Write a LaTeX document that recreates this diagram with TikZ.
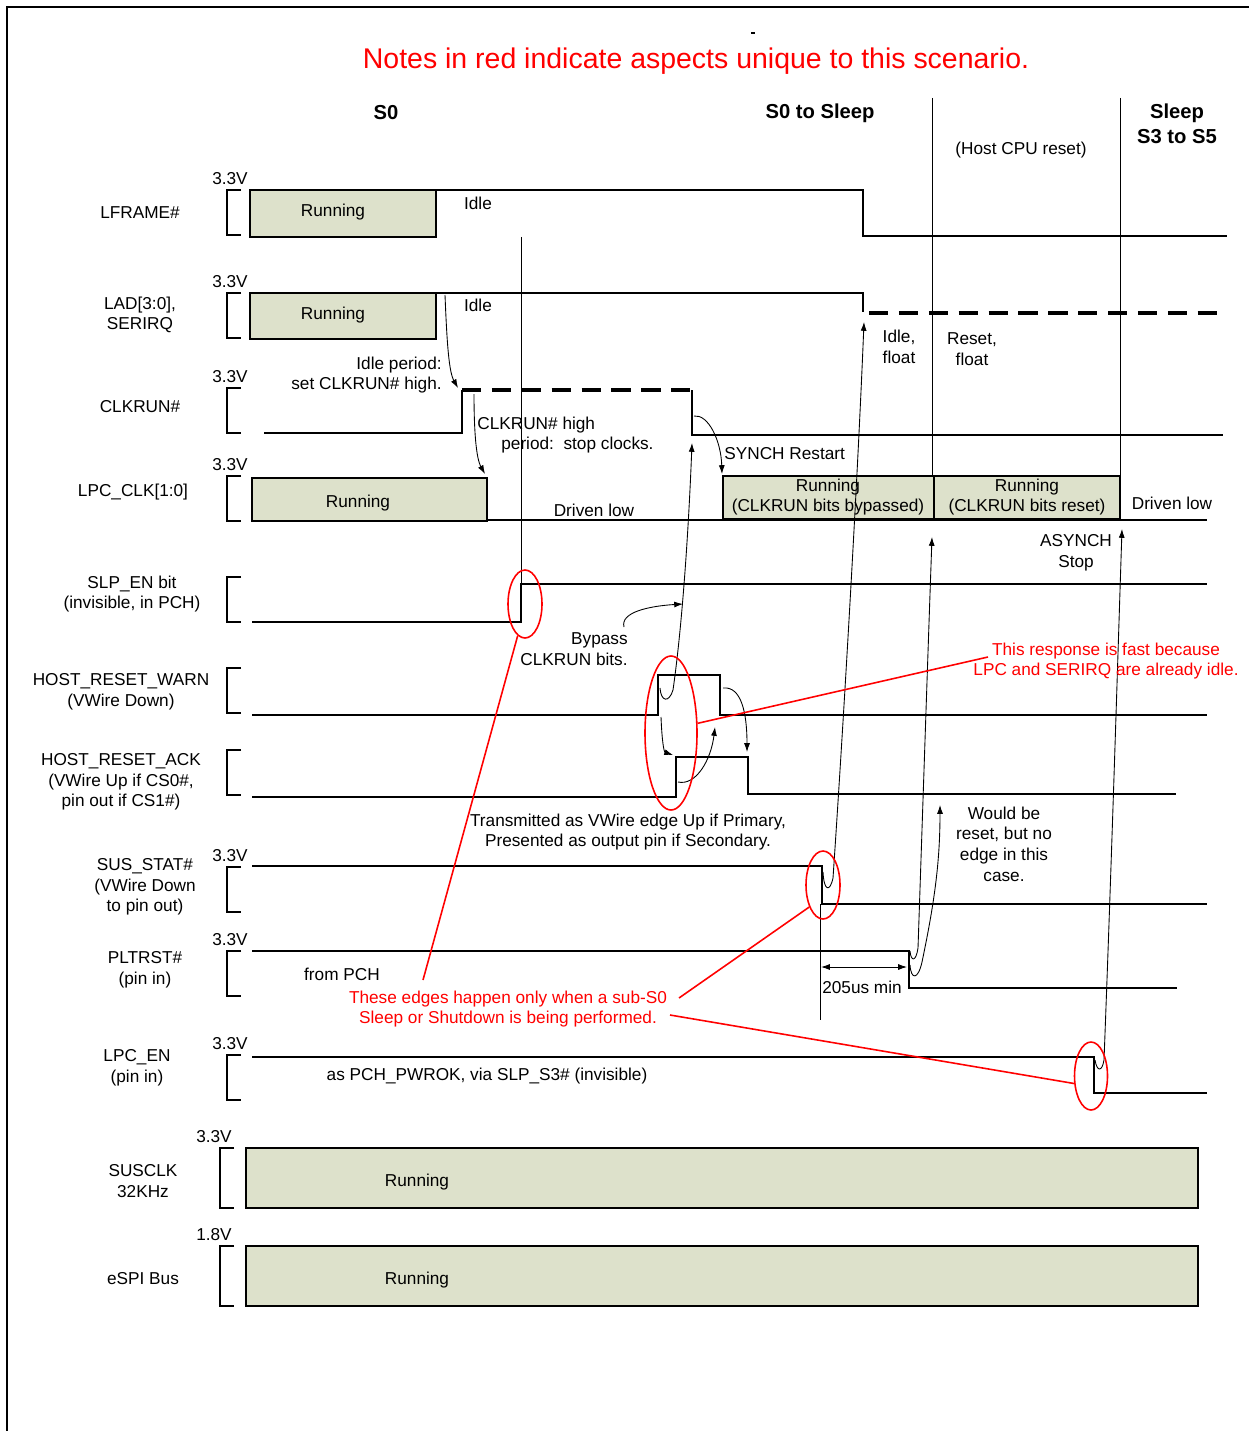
\documentclass[tikz,border=0pt]{standalone}
\usepackage{fontspec}
\setmainfont{Liberation Sans}
\usetikzlibrary{arrows.meta,shapes.geometric}
\definecolor{runfill}{RGB}{221,225,203}

\begin{document}
\begin{tikzpicture}[
    x=0.2mm, y=-0.2mm,
    txt/.style={font=\fontsize{9.8}{11.8}\selectfont, align=center, inner sep=0pt},
    rednote/.style={txt, text=red},
    head/.style={font=\fontsize{11.5}{14}\selectfont\bfseries, align=center, inner sep=0pt},
    wave/.style={line width=1.6pt},
    dashwave/.style={line width=2.2pt, dash pattern=on 11pt off 6pt},
    runbox/.style={draw, line width=1.6pt, fill=runfill},
    brkt/.style={line width=1.6pt},
    thin/.style={line width=0.5pt},
    arrow/.style={-{Latex[length=5pt,width=3.4pt]}, line width=0.5pt},
    ring/.style={draw=red, line width=0.9pt, ellipse, inner sep=0pt},
    redline/.style={red, line width=0.9pt}
  ]
    \useasboundingbox (0,0) rectangle (1249,1431);
    % Frame
    \draw[line width=1.6pt] (7,1431) -- (7,7) -- (1249,7);
    \draw[line width=1.2pt] (751,33) -- (755,33);

    % Title and phases
    \node[rednote, font=\fontsize{16.2}{19}\selectfont] (scen) at (696,61)
      {Notes in red indicate aspects unique to this scenario.};
    \node[head] (ph0) at (386,113) {S0};
    \node[head] (ph1) at (820,113) {S0 to Sleep};
    \node[head] (ph2) at (1177,124) {Sleep\\S3 to S5};
    \node[txt] (cpurst) at (1021,150) {(Host CPU reset)};
    \draw[thin] (932,98) -- (932,476);
    \draw[thin] (1120,98) -- (1120,476);

    % Signal names
    \node[txt] (nlframe) at (140,213) {LFRAME\#};
    \node[txt] (nlad) at (140,315) {LAD[3:0],\\SERIRQ};
    \node[txt] (nclkrun) at (140,407) {CLKRUN\#};
    \node[txt] (nlpcclk) at (133,492) {LPC\_CLK[1:0]};
    \node[txt] (nslpen) at (132,594) {SLP\_EN bit\\(invisible, in PCH)};
    \node[txt] (nwarn) at (121,692) {HOST\_RESET\_WARN\\(VWire Down)};
    \node[txt] (nack) at (121,782) {HOST\_RESET\_ACK\\(VWire Up if CS0\#,\\pin out if CS1\#)};
    \node[txt] (nsusstat) at (145,887) {SUS\_STAT\#\\(VWire Down\\to pin out)};
    \node[txt] (npltrst) at (145,970) {PLTRST\#\\(pin in)};
    \node[txt] (nlpcen) at (137,1068) {LPC\_EN\\(pin in)};
    \node[txt] (nsusclk) at (143,1181) {SUSCLK\\32KHz};
    \node[txt] (nespi) at (143,1279) {eSPI Bus};

    % Voltage brackets
    \foreach \t/\b in {190/235, 293/338, 388/433, 476/521, 577/622, 668/713,
                       750/795, 867/912, 951/996, 1055/1100}
      \draw[brkt] (241,\t) -| (227,\b) -- (241,\b);
    \foreach \t/\b in {1148/1208, 1246/1306}
      \draw[brkt] (234,\t) -| (220,\b) -- (234,\b);
    \foreach \y in {179,282,377,465,856,940,1044}
      \node[txt] (v\y) at (230,\y) {3.3V};
    \node[txt] (v1137) at (214,1137) {3.3V};
    \node[txt] (v1235) at (214,1235) {1.8V};

    % LFRAME#
    \draw[runbox] (250,190) rectangle (436,237);
    \node[txt] (lfrun) at (333,212) {Running};
    \draw[wave] (436,190) -- (863,190) -- (863,236) -- (1227,236);
    \node[txt] (lfidle) at (478,203) {Idle};

    % LAD / SERIRQ
    \draw[runbox] (250,293) rectangle (436,339);
    \node[txt] (ladrun) at (333,315) {Running};
    \draw[wave] (436,293) -- (863,293) -- (863,312);
    \draw[dashwave] (869,313) -- (1225,313);
    \node[txt] (ladidle) at (478,305) {Idle};
    \node[txt] (idlefl) at (899,347) {Idle,\\float};
    \node[txt] (resetfl) at (972,349) {Reset,\\float};

    % CLKRUN#
    \draw[wave] (264,433) -- (462,433) -- (462,390);
    \draw[dashwave] (462,390) -- (692,390);
    \draw[wave] (692,390) -- (692,435) -- (1223,435);
    \node[txt, anchor=east, align=right] (idleper) at (442,375)
      {Idle period:\\set CLKRUN\# high.};
    \node[txt, anchor=west, align=left] (stopclk) at (477,435)
      {CLKRUN\# high\\\hspace*{4.8mm}period:\ \ stop clocks.};
    \node[txt, anchor=west] (synch) at (724,454) {SYNCH Restart};

    % LPC_CLK[1:0]
    \draw[wave] (487,520) -- (1207,520);
    \draw[runbox] (252,478) rectangle (487,521);
    \node[txt] (clkrun0) at (358,503) {Running};
    \node[txt] (drlow1) at (594,510) {Driven low};
    \draw[runbox] (723,476) rectangle (934,519);
    \draw[runbox] (934,476) rectangle (1120,519);
    \node[txt] (clkbyp) at (828,497) {Running\\(CLKRUN bits bypassed)};
    \node[txt] (clkrst) at (1027,497) {Running\\(CLKRUN bits reset)};
    \node[txt] (drlow2) at (1172,503) {Driven low};
    \node[txt] (asynch) at (1076,553) {ASYNCH\\Stop};

    % SLP_EN bit
    \draw[wave] (252,622) -- (521,622) -- (521,584) -- (1207,584);
    \draw[thin] (521,237) -- (521,584);
    \node[txt, anchor=east, align=right] (bypass) at (628,649) {Bypass\\CLKRUN bits.};

    % HOST_RESET_WARN / ACK
    \draw[wave] (252,715) -- (658,715) -- (658,675) -- (720,675) -- (720,715) -- (1207,715);
    \draw[wave] (252,797) -- (676,797) -- (676,757) -- (748,757) -- (748,794) -- (1176,794);
    \node[txt] (vwnote) at (628,832)
      {Transmitted as VWire edge Up if Primary,\\Presented as output pin if Secondary.};

    % SUS_STAT#
    \draw[wave] (252,866) -- (822,866) -- (822,904) -- (1207,904);
    \draw[thin] (820,904) -- (820,1020);
    \node[txt] (wouldbe) at (1004,844) {Would be\\reset, but no\\edge in this\\case.};

    % PLTRST#
    \draw[wave] (252,951) -- (909,951) -- (909,988) -- (1177,988);
    \node[txt] (frompch) at (342,974) {from PCH};
    \draw[{Latex[length=5pt,width=3.4pt]}-{Latex[length=5pt,width=3.4pt]}, thin]
      (821,967) -- (907,967);
    \node[txt] (tmin) at (862,987) {205us min};

    % LPC_EN
    \draw[wave] (252,1057) -- (1094,1057) -- (1094,1093) -- (1207,1093);
    \node[txt] (pwrok) at (487,1076) {as PCH\_PWROK, via SLP\_S3\# (invisible)};

    % SUSCLK and eSPI
    \draw[runbox] (246,1148) rectangle (1198,1208);
    \node[txt] (susrun) at (417,1182) {Running};
    \draw[runbox] (246,1246) rectangle (1198,1306);
    \node[txt] (espirun) at (417,1280) {Running};

    % Cause and effect arrows
    \draw[arrow] (445,295) .. controls (447,345) and (449,372) .. (458,388);
    \draw[arrow] (474,394) .. controls (474,430) and (476,458) .. (485,474);
    \draw[arrow] (694,416) .. controls (708,414) and (721,440) .. (722,474);
    \draw[arrow] (660,688) .. controls (661,702) and (669,703) .. (673,690)
      .. controls (683,620) and (689,520) .. (692,443);
    \draw[arrow] (624,627) .. controls (620,612) and (650,606) .. (683,604);
    \draw[arrow] (661,717) .. controls (662,742) and (664,752) .. (673,755);
    \draw[arrow] (678,782) .. controls (696,786) and (711,760) .. (715,727);
    \draw[arrow] (723,688) .. controls (741,686) and (747,712) .. (747,752);
    \draw[arrow] (823,872) .. controls (824,892) and (830,892) .. (833,878)
      .. controls (845,700) and (858,470) .. (864,322);
    \draw[arrow] (910,951) .. controls (911,962) and (916,962) .. (918,948)
      .. controls (923,800) and (928,650) .. (932,537);
    \draw[arrow] (910,965) .. controls (911,980) and (918,980) .. (922,962)
      .. controls (935,900) and (940,860) .. (940,805);
    \draw[arrow] (1095,1060) .. controls (1097,1072) and (1102,1072) .. (1104,1060)
      .. controls (1112,850) and (1118,650) .. (1122,529);

    % Red notes
    \node[ring, minimum width=6.8mm, minimum height=13.6mm] (slpring) at (525,604) {};
    \node[ring, minimum width=10.4mm, minimum height=30.8mm] (ackring) at (671,733) {};
    \node[ring, minimum width=6.8mm, minimum height=13.6mm] (susring) at (823,885) {};
    \node[ring, minimum width=6.6mm, minimum height=13.6mm] (enring) at (1091,1076) {};
    \node[rednote] (fastnote) at (1106,661)
      {This response is fast because\\LPC and SERIRQ are already idle.};
    \node[rednote] (edgenote) at (508,1009)
      {These edges happen only when a sub-S0\\Sleep or Shutdown is being performed.};
    \coordinate (fastend) at (988,657);
    \coordinate (edge1) at (423,980);
    \coordinate (edge2) at (679,998);
    \coordinate (edge3) at (670,1015);
    \draw[redline] (ackring.20) -- (fastend);
    \draw[redline] (edge1) -- (slpring.-103);
    \draw[redline] (edge2) -- (susring.-122);
    \draw[redline] (edge3) -- (enring.-156);
  \end{tikzpicture}
\end{document}
